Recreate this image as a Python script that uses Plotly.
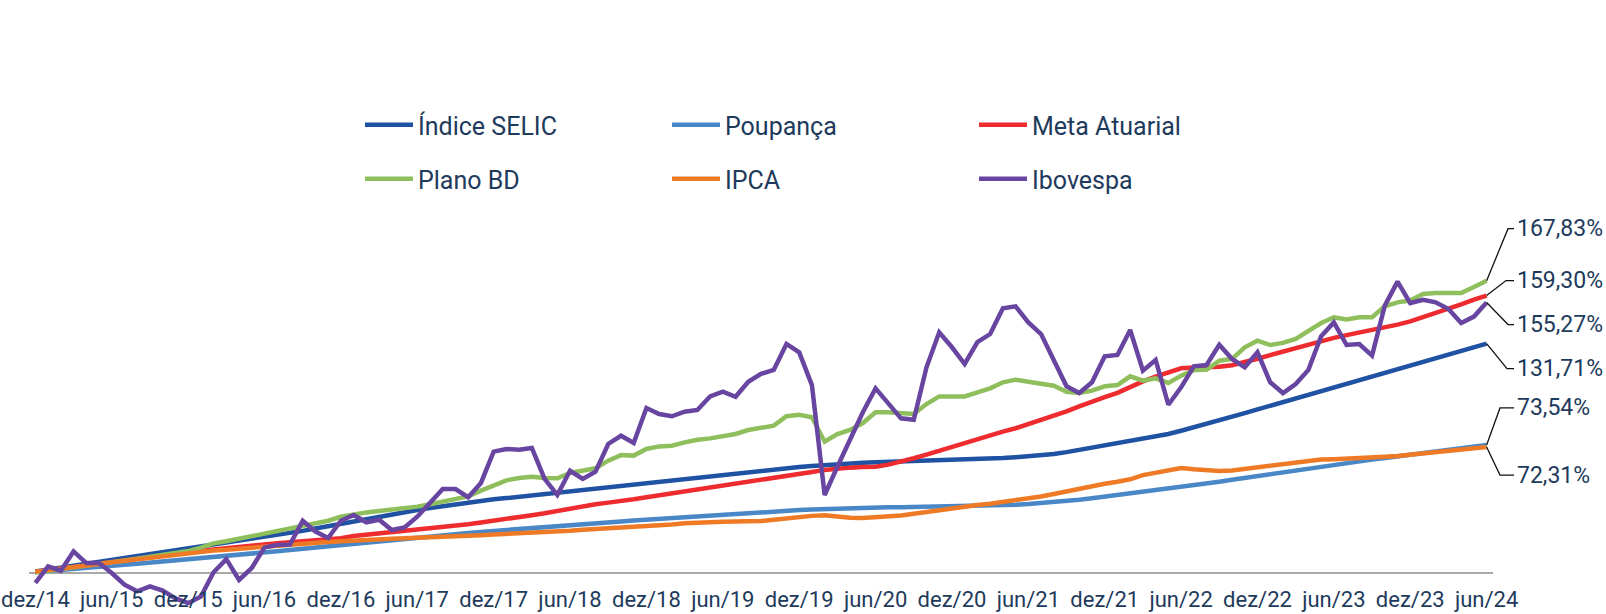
import plotly.graph_objects as go

tick_text = ["dez/14", "jun/15", "dez/15", "jun/16", "dez/16", "jun/17", "dez/17", "jun/18",
             "dez/18", "jun/19", "dez/19", "jun/20", "dez/20", "jun/21", "dez/21", "jun/22",
             "dez/22", "jun/23", "dez/23", "jun/24"]

selic = [0.9, 2.0, 3.1, 4.2, 5.3, 6.4, 7.5, 8.6, 9.7, 10.8,
         11.8, 12.8, 13.8, 15.0, 16.1, 17.2, 18.3, 19.4, 20.6, 21.8,
         23.0, 24.2, 25.5, 26.9, 28.3, 29.7, 31.1, 32.4, 33.7, 35.0,
         36.2, 37.3, 38.4, 39.4, 40.4, 41.4, 42.3, 43.0, 43.8, 44.6,
         45.4, 46.2, 47.0, 47.8, 48.5, 49.3, 50.1, 50.9, 51.7, 52.4,
         53.2, 54.0, 54.8, 55.6, 56.4, 57.2, 58.0, 58.8, 59.5, 60.2,
         60.9, 61.5, 62.1, 62.6, 63.0, 63.3, 63.6, 63.8, 64.0, 64.2,
         64.4, 64.6, 64.8, 65.0, 65.3, 65.6, 66.0, 66.5, 67.0, 67.6,
         68.3, 69.4, 70.7, 72.0, 73.2, 74.4, 75.6, 76.9, 78.3, 79.8,
         81.7, 83.6, 85.6, 87.6, 89.7, 91.8, 93.9, 96.0, 98.1, 100.3,
         102.5, 104.7, 106.9, 109.1, 111.3, 113.4, 115.4, 117.3, 119.3, 121.3,
         123.3, 125.3, 127.4, 129.5, 131.71]

poupanca = [0.6, 1.1, 1.7, 2.3, 2.9, 3.5, 4.1, 4.7, 5.3, 5.9,
            6.5, 7.2, 7.8, 8.5, 9.1, 9.8, 10.4, 11.1, 11.8, 12.5,
            13.2, 13.9, 15.2, 15.9, 16.6, 17.3, 18.0, 18.7, 19.4, 20.0,
            20.6, 21.2, 21.8, 22.4, 23.0, 23.6, 24.2, 24.8, 25.3, 25.9,
            26.4, 27.0, 27.5, 28.1, 28.6, 29.1, 29.6, 30.1, 30.6, 31.1,
            31.6, 32.1, 32.6, 33.0, 33.5, 34.0, 34.4, 34.9, 35.3, 35.7,
            36.1, 36.4, 36.7, 37.0, 37.2, 37.4, 37.6, 37.7, 37.8, 37.9,
            38.0, 38.1, 38.2, 38.3, 38.5, 38.7, 38.9, 39.2, 39.6, 40.1,
            40.7, 41.4, 42.1, 42.9, 43.8, 44.7, 45.6, 46.4, 47.3, 48.2,
            49.2, 50.2, 51.3, 52.4, 53.5, 54.6, 55.7, 56.8, 57.9, 59.0,
            60.1, 61.2, 62.2, 63.2, 64.1, 65.1, 66.0, 66.9, 67.8, 68.8,
            69.8, 70.7, 71.7, 72.6, 73.54]

meta_atuarial = [0.6, 1.6, 2.6, 3.6, 4.6, 5.5, 6.4, 7.4, 8.4, 9.4,
                 10.3, 11.2, 12.0, 12.8, 13.6, 14.4, 15.2, 15.9, 16.6, 17.1,
                 17.6, 18.1, 18.6, 19.2, 19.9, 21.2, 21.9, 22.6, 23.3, 24.0,
                 24.6, 25.3, 26.2, 27.1, 28.0, 29.0, 30.2, 31.4, 32.2, 33.2,
                 34.3, 35.6, 37.1, 38.5, 39.5, 40.4, 41.2, 42.3, 43.5, 44.6,
                 45.8, 46.9, 47.9, 48.8, 49.8, 50.8, 51.9, 53.0, 54.2, 55.5,
                 56.8, 58.0, 59.2, 60.1, 60.5, 60.8, 61.0, 62.2, 63.9, 65.9,
                 68.0, 70.2, 72.5, 74.8, 77.2, 79.2, 81.2, 83.1, 85.4, 87.7,
                 90.0, 92.8, 95.7, 98.5, 101.0, 103.4, 106.8, 110.0, 112.8, 115.3,
                 117.5, 118.0, 118.2, 118.4, 119.3, 121.0, 123.0, 125.1, 127.2, 129.3,
                 131.3, 133.2, 135.0, 136.6, 138.0, 139.4, 140.9, 142.6, 144.5, 146.8,
                 149.3, 151.7, 154.3, 157.0, 159.30]

plano_bd = [0.3, 1.2, 2.2, 3.2, 4.2, 5.2, 6.2, 7.2, 8.2, 9.2,
            10.3, 11.4, 12.6, 14.6, 17.0, 18.2, 19.6, 21.0, 22.4, 23.8,
            25.2, 26.6, 28.4, 30.0, 32.3, 33.8, 34.8, 35.6, 36.3, 37.2,
            38.1, 39.5, 40.9, 42.1, 44.0, 47.3, 50.5, 53.2, 54.5, 55.3,
            54.5, 54.4, 57.4, 58.7, 60.1, 64.5, 67.7, 67.4, 71.2, 72.7,
            73.1, 75.0, 76.5, 77.3, 78.5, 79.8, 82.1, 83.1, 84.6, 90.0,
            90.9, 89.4, 75.4, 79.8, 82.1, 86.1, 92.3, 92.3, 91.5, 91.3,
            97.0, 101.4, 101.4, 101.4, 103.7, 106.0, 109.5, 111.0, 109.8, 108.9,
            107.5, 104.1, 103.3, 104.7, 107.2, 107.9, 112.9, 110.4, 111.8, 109.1,
            113.3, 116.5, 116.7, 121.9, 122.9, 129.6, 133.4, 130.9, 132.1, 134.4,
            138.6, 143.5, 146.8, 145.5, 146.8, 146.8, 153.1, 155.4, 156.4, 160.2,
            160.8, 160.8, 160.8, 164.2, 167.83]

ipca = [0.8, 1.8, 2.6, 3.5, 4.4, 5.2, 6.1, 7.0, 7.9, 8.8,
        9.7, 10.7, 11.6, 12.3, 12.9, 13.4, 14.0, 14.7, 15.3, 15.9,
        16.4, 16.9, 17.4, 17.8, 18.2, 18.7, 19.1, 19.4, 19.7, 20.0,
        20.2, 20.4, 20.7, 21.0, 21.3, 21.7, 22.1, 22.4, 22.5, 22.7,
        23.0, 23.6, 24.2, 24.8, 25.2, 25.6, 25.9, 26.1, 26.4, 27.0,
        27.8, 28.6, 29.0, 29.2, 29.4, 29.5, 29.6, 29.8, 30.6, 31.5,
        32.2, 32.8, 33.2, 32.4, 31.7, 31.6, 32.0, 32.6, 33.0, 34.0,
        35.1, 36.2, 37.2, 38.2, 39.0, 39.8, 40.7, 41.7, 42.7, 43.9,
        45.4, 47.0, 48.5, 50.0, 51.2, 52.4, 53.8, 56.2, 57.6, 59.1,
        60.3, 59.6, 58.8, 58.6, 58.9, 59.8, 60.8, 61.6, 62.6, 63.8,
        64.6, 65.1, 65.3, 65.5, 65.9, 66.3, 66.7, 67.2, 68.0, 68.9,
        69.7, 70.4, 71.0, 71.7, 72.31]

ibovespa = [-5.7, 3.8, 1.3, 12.4, 5.7, 5.7, 0.0, -6.7, -10.5, -7.7,
            -10.1, -14.6, -17.3, -13.5, 0.4, 8.0, -4.0, 2.9, 14.7, 16.1,
            16.3, 30.0, 23.8, 20.1, 30.0, 33.3, 29.1, 30.6, 24.7, 26.2,
            32.3, 40.6, 48.2, 48.2, 43.5, 51.7, 69.7, 71.2, 70.8, 71.8,
            54.0, 44.8, 58.7, 54.0, 58.2, 74.1, 78.8, 74.6, 94.7, 91.3,
            90.0, 92.6, 93.6, 101.4, 104.1, 101.2, 109.8, 114.3, 116.6, 131.5,
            126.7, 107.9, 44.8, 61.0, 76.9, 92.3, 106.0, 97.2, 88.8, 88.0,
            118.1, 138.2, 129.6, 120.0, 132.5, 137.2, 152.0, 153.1, 143.9, 137.2,
            122.9, 107.2, 103.3, 109.5, 124.4, 125.2, 139.5, 116.2, 122.3, 96.6,
            106.6, 118.7, 119.4, 131.1, 122.9, 118.1, 126.7, 109.5, 103.3, 108.5,
            116.6, 135.9, 143.9, 130.9, 131.5, 124.8, 153.5, 167.3, 155.0, 156.9,
            155.4, 151.6, 143.5, 147.2, 155.27]

series_names = ["Índice SELIC", "Poupança", "Meta Atuarial", "Plano BD", "IPCA", "Ibovespa"]
series_values = [selic, poupanca, meta_atuarial, plano_bd, ipca, ibovespa]
end_labels = ["131,71%", "73,54%", "159,30%", "167,83%", "72,31%", "155,27%"]

# ---- styles ----
colors = ["#1f52a3", "#4a87c6", "#ee2c2f", "#8fbf5d", "#ee7a26", "#6845a0"]
label_dy = [25, -37, -15, -52, 28, 22]          # leader label offset (px) from end point
label_elbow = [1507, 1500, 1506, 1508, 1500, 1508]
TEXT = "#1e3a5c"
FONT = "Roboto"
W_PX, H_PX = 1606, 614
ML, MR, MT, MB = 29, 113, 260, 0
PW, PH = W_PX - ML - MR, H_PX - MT - MB
ZERO_PX, PPU = 573.0, 1.7417
y_max = (ZERO_PX - MT) / PPU
y_min = -(H_PX - MB - ZERO_PX) / PPU
n = len(selic)
x = list(range(n))
x_range = [-0.5, n - 0.5]


def px_x(v):
    return ML + (v - x_range[0]) / (x_range[1] - x_range[0]) * PW


def px_y(v):
    return MT + (y_max - v) / (y_max - y_min) * PH


def paper_x(p):
    return (p - ML) / PW


def paper_y(p):
    return (H_PX - MB - p) / PH


fig = go.Figure()
for k, (name, vals) in enumerate(zip(series_names, series_values)):
    fig.add_trace(go.Scatter(
        x=x, y=vals, name=name, mode="lines",
        line=dict(color=colors[k], width=4.5),
        legend="legend" if k < 3 else "legend2",
        hoverinfo="skip",
    ))

# carrier trace for the month-label axis (no visible marks)
fig.add_trace(go.Scatter(x=[x[0], x[-1]], y=[None, None], xaxis="x2", yaxis="y",
                         mode="lines", showlegend=False, hoverinfo="skip"))

shapes, annotations = [], []
for k, vals in enumerate(series_values):
    ex, ey = px_x(x[-1]), px_y(vals[-1])
    ly = ey + label_dy[k]
    bx = label_elbow[k]
    path = "M {:.5f},{:.5f} L {:.5f},{:.5f} L {:.5f},{:.5f}".format(
        paper_x(ex), paper_y(ey), paper_x(bx), paper_y(ly), paper_x(1514), paper_y(ly))
    shapes.append(dict(type="path", path=path, xref="paper", yref="paper",
                       line=dict(color="#111111", width=1.3)))
    annotations.append(dict(text=end_labels[k], x=paper_x(1515), y=paper_y(ly),
                            xref="paper", yref="paper", xanchor="left", yanchor="middle",
                            showarrow=False, font=dict(family=FONT, size=23, color=TEXT)))

legend_common = dict(orientation="h", xanchor="left", yanchor="middle",
                     x=paper_x(360), yref="container", itemwidth=48,
                     entrywidth=244, entrywidthmode="pixels",
                     font=dict(family=FONT, size=25, color=TEXT),
                     bgcolor="rgba(0,0,0,0)", traceorder="normal")

fig.update_layout(
    width=W_PX, height=H_PX,
    margin=dict(l=ML, r=MR, t=MT, b=MB, pad=0, autoexpand=False),
    paper_bgcolor="white", plot_bgcolor="white",
    showlegend=True,
    legend=dict(**legend_common, y=1 - 125 / H_PX),
    legend2=dict(**legend_common, y=1 - 179 / H_PX),
    xaxis=dict(range=x_range, showticklabels=False, ticks="", showgrid=False,
               zeroline=False, showline=False),
    xaxis2=dict(range=x_range, overlaying="x", anchor="free", position=0, side="top",
                tickvals=x[::6], ticktext=tick_text, ticks="", showgrid=False,
                zeroline=False, showline=False, ticklabelstandoff=3,
                tickfont=dict(family=FONT, size=22, color=TEXT)),
    yaxis=dict(range=[y_min, y_max], showgrid=False, showticklabels=False, ticks="",
               zeroline=True, zerolinecolor="#a9a9a9", zerolinewidth=2, showline=False),
    shapes=shapes, annotations=annotations,
)

fig.write_html("out.html", config={"displayModeBar": False},
               post_script="document.body.style.margin='0';document.body.style.padding='0';")
